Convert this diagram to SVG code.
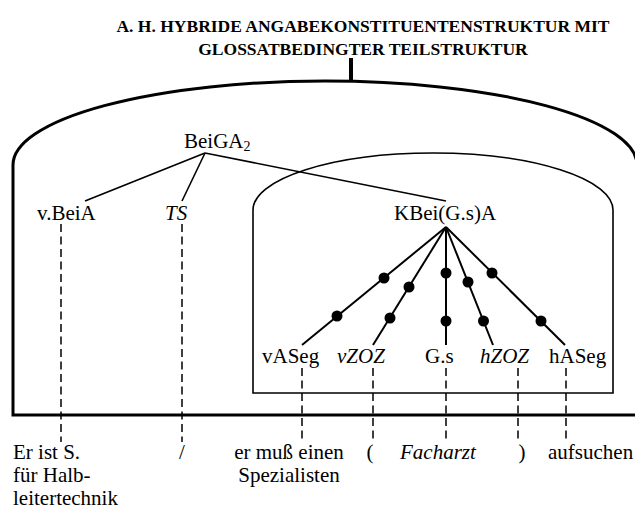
<svg xmlns="http://www.w3.org/2000/svg" width="635" height="511" viewBox="0 0 635 511">
<style>
text{font-family:"Liberation Serif","Times New Roman",serif;fill:#000}
.t{font-size:17.5px;font-weight:bold;text-anchor:middle}
.l{font-size:21px}
.i{font-style:italic}
.c{text-anchor:middle}
.frame{fill:none;stroke:#000;stroke-width:3}
.box{fill:none;stroke:#000;stroke-width:1.6}
.e{fill:none;stroke:#000;stroke-width:1.6}
.b{fill:none;stroke:#000;stroke-width:2}
.d{fill:none;stroke:#000;stroke-width:1.5;stroke-dasharray:8 4.5}
.dot{fill:#000}
</style>
<rect width="635" height="511" fill="#fff"/>
<g id="title">
<text class="t" x="363" y="32">A. H. HYBRIDE ANGABEKONSTITUENTENSTRUKTUR MIT</text>
<text class="t" x="363" y="55">GLOSSATBEDINGTER TEILSTRUKTUR</text>
</g>
<g id="outer-frame">
<path class="frame" d="M13,415 L13,165 A312,84 0 0 1 637,165 L637,415 Z"/>
</g>
<g id="inner-box">
<path class="box" d="M253,393 L253,210 A180,57 0 0 1 613,210 L613,393 Z"/>
</g>
<g id="connectors">
<line x1="351" y1="58" x2="351" y2="81" stroke="#000" stroke-width="4"/>
<line class="e" x1="205" y1="153" x2="85" y2="201"/>
<line class="e" x1="205" y1="153" x2="182" y2="201"/>
<line class="e" x1="205" y1="153" x2="446" y2="201"/>
<line class="b" x1="446" y1="227" x2="302" y2="345"/>
<line class="b" x1="446" y1="227" x2="373" y2="345"/>
<line class="b" x1="446" y1="227" x2="446" y2="345"/>
<line class="b" x1="446" y1="227" x2="493" y2="345"/>
<line class="b" x1="446" y1="227" x2="565" y2="345"/>
<circle class="dot" cx="384" cy="278" r="5.5"/>
<circle class="dot" cx="337" cy="316" r="5.5"/>
<circle class="dot" cx="409" cy="287" r="5.5"/>
<circle class="dot" cx="390" cy="318" r="5.5"/>
<circle class="dot" cx="446" cy="273" r="5.5"/>
<circle class="dot" cx="446" cy="321" r="5.5"/>
<circle class="dot" cx="468" cy="282" r="5.5"/>
<circle class="dot" cx="483.5" cy="321" r="5.5"/>
<circle class="dot" cx="492" cy="273" r="5.5"/>
<circle class="dot" cx="541" cy="321" r="5.5"/>
<line class="d" x1="61" y1="224" x2="61" y2="442"/>
<line class="d" x1="182" y1="224" x2="182" y2="442"/>
<line class="d" x1="302" y1="368" x2="302" y2="442"/>
<line class="d" x1="373" y1="368" x2="373" y2="442"/>
<line class="d" x1="446" y1="368" x2="446" y2="442"/>
<line class="d" x1="518" y1="368" x2="518" y2="442"/>
<line class="d" x1="566" y1="368" x2="566" y2="442"/>
</g>
<g id="BeiGA2"><text class="l" x="184" y="148">BeiGA<tspan font-size="14" dy="3">2</tspan></text></g>
<g id="vBeiA"><text class="l" x="37" y="220">v.BeiA</text></g>
<g id="TS"><text class="l i" x="165" y="220">TS</text></g>
<g id="KBeiGsA"><text class="l" x="394" y="220">KBei(G.s)A</text></g>
<g id="vASeg"><text class="l" x="262" y="363">vASeg</text></g>
<g id="vZOZ"><text class="l i" x="337" y="363">vZOZ</text></g>
<g id="Gs"><text class="l" x="425" y="363">G.s</text></g>
<g id="hZOZ"><text class="l i" x="480" y="363">hZOZ</text></g>
<g id="hASeg"><text class="l" x="549" y="363">hASeg</text></g>
<g id="w1"><text class="l" x="13" y="459">Er ist S.</text><text class="l" x="13" y="482">für Halb-</text><text class="l" x="13" y="505">leitertechnik</text></g>
<g id="w2"><text class="l c" x="182" y="459">/</text></g>
<g id="w3"><text class="l c" x="289" y="459">er muß einen</text><text class="l c" x="289" y="482">Spezialisten</text></g>
<g id="w4"><text class="l c" x="370" y="459">(</text></g>
<g id="w5"><text class="l i" x="400" y="459">Facharzt</text></g>
<g id="w6"><text class="l c" x="522" y="459">)</text></g>
<g id="w7"><text class="l" x="548" y="459">aufsuchen</text></g>
</svg>
